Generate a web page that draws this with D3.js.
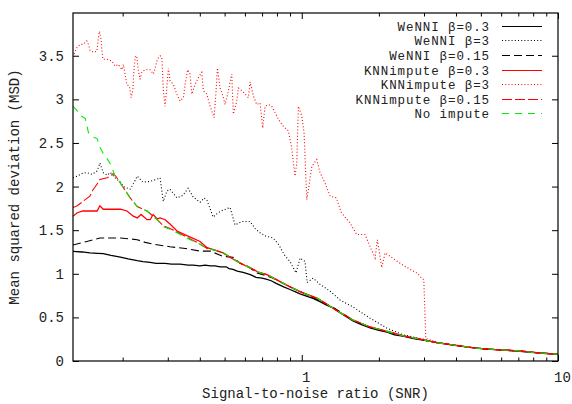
<!DOCTYPE html>
<html>
<head>
<meta charset="utf-8">
<script src="https://cdnjs.cloudflare.com/ajax/libs/d3/7.8.5/d3.min.js"></script>
<style>
  body { margin: 0; background: #fff; }
  svg { display: block; }
</style>
</head>
<body>
<div class="wrapper"></div>
<script>
// values, [SNR, MSD]
var tail = [[3.364,0.21],[3.6,0.198],[3.893,0.184],[4.2,0.17],[4.536,0.157],[4.9,0.145],[5.284,0.138],[5.7,0.131],[6.101,0.126],[6.6,0.121],[7.108,0.115],[7.7,0.104],[8.28,0.095],[8.9,0.088],[9.561,0.082],[10,0.08]];

var wenni03 = [[0.128,1.256],[0.139,1.25],[0.149,1.24],[0.16,1.235],[0.168,1.23],[0.18,1.21],[0.196,1.19],[0.21,1.17],[0.228,1.15],[0.24,1.14],[0.256,1.13],[0.27,1.12],[0.293,1.12],[0.31,1.11],[0.335,1.11],[0.36,1.10],[0.377,1.10],[0.4,1.09],[0.42,1.10],[0.44,1.09],[0.459,1.09],[0.48,1.08],[0.507,1.08],[0.52,1.06],[0.539,1.05],[0.56,1.03],[0.59,1.015],[0.63,0.99],[0.663,0.96],[0.7,0.95],[0.726,0.94],[0.76,0.92],[0.794,0.89],[0.85,0.85],[0.90,0.82],[0.95,0.79],[0.985,0.77],[1.049,0.74],[1.1,0.72],[1.178,0.68],[1.25,0.64],[1.325,0.61],[1.45,0.53],[1.585,0.46],[1.7,0.42],[1.848,0.38],[2.0,0.35],[2.153,0.33],[2.3,0.30],[2.485,0.285],[2.7,0.26],[2.889,0.245],[3.1,0.23],[3.364,0.21],[3.893,0.183],[4.536,0.156],[5.284,0.136],[6.101,0.124],[7.108,0.112],[8.28,0.094],[9.561,0.08],[10,0.078]];

var wenni3 = [[0.128,2.10],[0.133,2.12],[0.139,2.15],[0.145,2.16],[0.152,2.14],[0.159,2.18],[0.163,2.27],[0.168,2.16],[0.174,2.13],[0.179,2.16],[0.187,2.10],[0.196,2.05],[0.201,2.00],[0.214,1.97],[0.222,2.05],[0.228,2.12],[0.240,2.05],[0.256,2.06],[0.270,2.08],[0.280,2.10],[0.288,1.83],[0.298,1.95],[0.306,1.97],[0.326,1.87],[0.344,1.90],[0.360,1.98],[0.377,1.88],[0.401,1.82],[0.416,1.87],[0.427,1.84],[0.451,1.65],[0.472,1.70],[0.493,1.73],[0.525,1.76],[0.549,1.56],[0.585,1.60],[0.628,1.60],[0.657,1.52],[0.687,1.47],[0.726,1.43],[0.773,1.41],[0.815,1.33],[0.853,1.22],[0.90,1.14],[0.95,1.01],[0.985,1.18],[1.03,1.14],[1.049,0.90],[1.107,0.95],[1.178,0.88],[1.29,0.80],[1.411,0.70],[1.585,0.62],[1.848,0.49],[2.153,0.376],[2.485,0.30],[2.889,0.26],[3.364,0.215],[3.893,0.186],[4.536,0.158],[5.284,0.139],[6.101,0.127],[7.108,0.116],[8.28,0.096],[9.561,0.083],[10,0.08]];

var wenni015 = [[0.128,1.33],[0.136,1.35],[0.145,1.37],[0.163,1.41],[0.179,1.41],[0.196,1.41],[0.214,1.40],[0.228,1.39],[0.245,1.36],[0.263,1.34],[0.306,1.31],[0.351,1.29],[0.401,1.26],[0.439,1.26],[0.493,1.20],[0.539,1.19],[0.574,1.12],[0.612,1.09],[0.669,1.01],[0.773,0.95],[0.90,0.85],[1.049,0.76],[1.178,0.69],[1.325,0.615],[1.585,0.47],[1.848,0.385],[2.153,0.335],[2.485,0.288],[2.889,0.248]].concat(tail);

var knn03 = [[0.128,1.66],[0.133,1.70],[0.140,1.72],[0.149,1.72],[0.159,1.72],[0.163,1.78],[0.168,1.74],[0.179,1.74],[0.196,1.74],[0.208,1.72],[0.220,1.66],[0.228,1.64],[0.236,1.68],[0.249,1.62],[0.256,1.62],[0.263,1.68],[0.273,1.63],[0.280,1.64],[0.293,1.62],[0.306,1.57],[0.326,1.49],[0.367,1.42],[0.401,1.37],[0.427,1.30],[0.459,1.27],[0.493,1.24],[0.539,1.17],[0.585,1.11],[0.628,1.07],[0.675,1.02],[0.732,0.99],[0.823,0.91],[0.90,0.85],[1.012,0.78],[1.148,0.72],[1.255,0.65],[1.373,0.575],[1.585,0.47],[1.848,0.39],[2.153,0.34],[2.485,0.29],[2.889,0.25]].concat(tail);

var knn3 = [[0.1293,3.52],[0.1324,3.59],[0.1364,3.63],[0.1402,3.63],[0.1449,3.67],[0.147,3.63],[0.1493,3.56],[0.1538,3.54],[0.1586,3.55],[0.1609,3.71],[0.1623,3.78],[0.1644,3.71],[0.1659,3.57],[0.1674,3.46],[0.1735,3.46],[0.1815,3.44],[0.1869,3.38],[0.1925,3.40],[0.1985,3.34],[0.2013,3.40],[0.2044,3.29],[0.2075,3.17],[0.2125,3.15],[0.2158,3.02],[0.2191,3.10],[0.2217,3.36],[0.2243,3.50],[0.2271,3.48],[0.2304,3.33],[0.2340,3.23],[0.2376,3.31],[0.2447,3.34],[0.2559,3.34],[0.2636,3.29],[0.2677,3.36],[0.2732,3.46],[0.2800,3.50],[0.2843,3.48],[0.2884,3.10],[0.2928,2.92],[0.2973,3.13],[0.3017,3.36],[0.3063,3.21],[0.3156,3.17],[0.3252,3.06],[0.3350,2.98],[0.3451,3.02],[0.3505,3.17],[0.3587,3.34],[0.3665,3.29],[0.3722,3.06],[0.3834,3.17],[0.3951,3.25],[0.4071,3.31],[0.4131,3.10],[0.4258,3.06],[0.4388,2.92],[0.4548,2.79],[0.4631,3.10],[0.4686,3.36],[0.4800,3.13],[0.4945,3.02],[0.5020,2.94],[0.5173,3.10],[0.5330,3.29],[0.5409,2.83],[0.5575,2.98],[0.5658,3.13],[0.5830,3.10],[0.6008,3.06],[0.6191,3.02],[0.6283,3.20],[0.6474,3.04],[0.6672,2.94],[0.6874,2.96],[0.7044,2.67],[0.7191,2.92],[0.7410,2.94],[0.7635,2.92],[0.7866,2.85],[0.8105,2.77],[0.8477,2.69],[0.8865,2.64],[0.9135,2.44],[0.9414,2.12],[0.9560,2.27],[0.9700,2.92],[1.000,2.81],[1.0209,2.62],[1.0460,1.85],[1.0710,2.04],[1.0945,2.23],[1.1443,2.31],[1.1783,2.16],[1.2327,2.04],[1.2897,1.89],[1.3650,1.87],[1.4276,1.70],[1.5441,1.58],[1.6390,1.45],[1.7666,1.45],[1.8480,1.31],[1.9331,1.18],[1.9734,1.39],[2.0518,1.07],[2.1145,1.24],[2.2119,1.20],[2.420,1.12],[2.648,1.05],[2.813,1.01],[2.940,0.95],[2.994,0.93],[3.048,0.26]].concat(tail);

var knn015 = [[0.128,1.76],[0.133,1.78],[0.140,1.83],[0.149,1.89],[0.153,1.96],[0.159,2.03],[0.163,2.08],[0.174,2.10],[0.179,2.12],[0.184,2.15],[0.189,2.11],[0.194,2.06],[0.201,1.99],[0.214,1.87],[0.228,1.77],[0.249,1.72],[0.273,1.62],[0.288,1.55],[0.306,1.52],[0.326,1.48],[0.367,1.40],[0.39,1.36],[0.427,1.29],[0.459,1.27],[0.493,1.24],[0.539,1.17],[0.585,1.11],[0.628,1.07],[0.675,1.02],[0.732,0.99],[0.823,0.91],[0.90,0.85],[1.012,0.78],[1.148,0.72],[1.255,0.65],[1.373,0.575],[1.585,0.47],[1.848,0.39],[2.153,0.34],[2.485,0.29],[2.889,0.25]].concat(tail);

var noImpute = [[0.128,2.92],[0.132,2.88],[0.136,2.82],[0.143,2.78],[0.147,2.62],[0.153,2.57],[0.159,2.55],[0.163,2.45],[0.168,2.38],[0.174,2.32],[0.179,2.26],[0.187,2.12],[0.194,2.06],[0.201,1.99],[0.214,1.87],[0.228,1.77],[0.249,1.72],[0.273,1.62],[0.288,1.54],[0.306,1.51],[0.326,1.47],[0.367,1.39],[0.39,1.36],[0.427,1.29],[0.459,1.27],[0.493,1.24],[0.539,1.17],[0.585,1.11],[0.628,1.07],[0.675,1.02],[0.732,0.99],[0.823,0.91],[0.90,0.85],[1.012,0.78],[1.148,0.72],[1.255,0.65],[1.373,0.575],[1.585,0.47],[1.848,0.39],[2.153,0.34],[2.485,0.29],[2.889,0.25]].concat(tail);

var seriesNames = ["WeNNI \u03b2=0.3", "WeNNI \u03b2=3", "WeNNI \u03b2=0.15", "KNNimpute \u03b2=0.3", "KNNimpute \u03b2=3", "KNNimpute \u03b2=0.15", "No impute"];
var yTicks = [0, 0.5, 1, 1.5, 2, 2.5, 3, 3.5];
var xMajor = [1, 10];
var xMinor = [0.2, 0.3, 0.4, 0.5, 0.6, 0.7, 0.8, 0.9, 2, 3, 4, 5, 6, 7, 8, 9];

var series = [
  {name: seriesNames[0], values: wenni03, color: "#000", dash: null},
  {name: seriesNames[1], values: wenni3, color: "#000", dash: "1,2.2"},
  {name: seriesNames[2], values: wenni015, color: "#000", dash: "8,4"},
  {name: seriesNames[3], values: knn03, color: "#ff0000", dash: null},
  {name: seriesNames[4], values: knn3, color: "#ff0000", dash: "1,2.2"},
  {name: seriesNames[5], values: knn015, color: "#ff0000", dash: "10,3"},
  {name: seriesNames[6], values: noImpute, color: "#00ee00", dash: "7,6"}
];

var font = "'Liberation Mono', 'Courier New', monospace";
var svg = d3.select(".wrapper").append("svg")
    .attr("width", 572)
    .attr("height", 404)
    .style("background", "#fff"),
  margin = {top: 13, right: 14, bottom: 43, left: 73},
  width = 572 - margin.left - margin.right,
  height = 404 - margin.top - margin.bottom,
  g = svg.append("g").attr("transform", "translate(" + margin.left + "," + margin.top + ")");

var x = d3.scaleLog().domain([0.128, 10]).range([0, width]);
var y = d3.scaleLinear().domain([0, 3.99]).range([height, 0]);

g.append("clipPath").attr("id", "clip")
  .append("rect").attr("width", width).attr("height", height);

var line = d3.line()
  .x(function(d) { return x(d[0]); })
  .y(function(d) { return y(d[1]); });

g.append("g").attr("clip-path", "url(#clip)")
  .selectAll("path")
  .data(series)
  .enter().append("path")
    .attr("d", function(d) { return line(d.values); })
    .attr("fill", "none")
    .attr("stroke", function(d) { return d.color; })
    .attr("stroke-width", function(d) { return d.dash ? 1.1 : 1.3; })
    .attr("stroke-dasharray", function(d) { return d.dash; });

function styleAxis(sel) {
  sel.select(".domain").remove();
  sel.selectAll("line").attr("stroke", "#000");
  sel.selectAll("text")
    .attr("font-family", font)
    .attr("font-size", 14)
    .attr("fill", "#222");
}

// left / right
g.append("g")
  .call(d3.axisLeft(y).tickValues(yTicks).tickFormat(d3.format("")).tickSizeInner(-6).tickSizeOuter(0).tickPadding(9))
  .call(styleAxis);
g.append("g")
  .attr("transform", "translate(" + width + ",0)")
  .call(d3.axisRight(y).tickValues(yTicks).tickFormat("").tickSizeInner(-6).tickSizeOuter(0))
  .call(styleAxis);

// bottom / top
var bottom = g.append("g")
  .attr("transform", "translate(0," + height + ")")
  .call(d3.axisBottom(x).tickValues(xMajor).tickFormat(d3.format("d")).tickSizeInner(-6).tickSizeOuter(0).tickPadding(11))
  .call(styleAxis);
bottom.selectAll("text").attr("dx", 4);
g.append("g")
  .attr("transform", "translate(0," + height + ")")
  .call(d3.axisBottom(x).tickValues(xMinor).tickFormat("").tickSizeInner(-3.5).tickSizeOuter(0))
  .call(styleAxis);
g.append("g")
  .call(d3.axisTop(x).tickValues(xMajor).tickFormat("").tickSizeInner(-6).tickSizeOuter(0))
  .call(styleAxis);
g.append("g")
  .call(d3.axisTop(x).tickValues(xMinor).tickFormat("").tickSizeInner(-3.5).tickSizeOuter(0))
  .call(styleAxis);

g.append("rect")
  .attr("width", width)
  .attr("height", height)
  .attr("fill", "none")
  .attr("stroke", "#000")
  .attr("stroke-width", 1.2);

svg.append("text")
  .attr("x", margin.left + width / 2)
  .attr("y", 398)
  .attr("text-anchor", "middle")
  .attr("font-family", font)
  .attr("font-size", 14)
  .attr("fill", "#222")
  .text("Signal-to-noise ratio (SNR)");

svg.append("text")
  .attr("transform", "translate(19," + (margin.top + height / 2) + ") rotate(-90)")
  .attr("text-anchor", "middle")
  .attr("font-family", font)
  .attr("font-size", 14)
  .attr("fill", "#222")
  .text("Mean squared deviation (MSD)");

// legend, top right inside the frame; a touch smaller type so the rows don't collide
var legend = svg.append("g")
  .selectAll("g")
  .data(series)
  .enter().append("g")
    .attr("transform", function(d, i) { return "translate(0," + Math.round(25.7 + i * 14.6) + ")"; });

legend.append("text")
  .attr("x", 490)
  .attr("y", 0.5)
  .attr("dy", "0.35em")
  .attr("text-anchor", "end")
  .attr("font-family", font)
  .attr("font-size", 12.5)
  .attr("letter-spacing", 0.9)
  .attr("fill", "#222")
  .text(function(d) { return d.name; });

legend.append("line")
  .attr("x1", 502)
  .attr("x2", 542)
  .attr("y1", 0.5)
  .attr("y2", 0.5)
  .attr("stroke", function(d) { return d.color; })
  .attr("stroke-width", 1.1)
  .attr("stroke-dasharray", function(d) { return d.dash; });
</script>
</body>
</html>
